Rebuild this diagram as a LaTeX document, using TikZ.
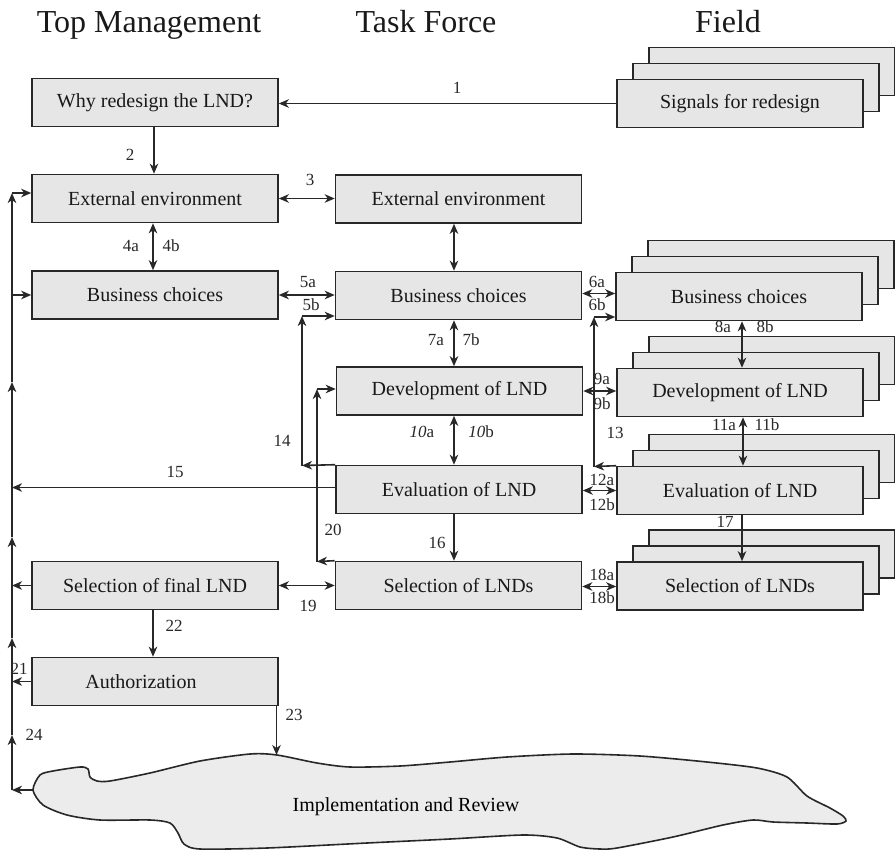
\documentclass[tikz,border=0pt]{standalone}
\usepackage{fontspec}
\setmainfont{Liberation Serif}
\usetikzlibrary{arrows.meta,shadows}
\definecolor{boxgray}{RGB}{230,230,230}
\definecolor{blobgray}{RGB}{236,236,236}
\definecolor{ink}{RGB}{40,40,40}
\begin{document}
\begin{tikzpicture}[x=1pt,y=-1pt,
  >={Stealth[length=10pt,width=8.5pt,inset=3pt]},
  font=\fontsize{20}{22}\selectfont,
  box/.style={draw=ink, line width=1.6pt, fill=boxgray, minimum width=246pt,
    minimum height=48pt, inner sep=0pt, text=black!90},
  stack/.style={box,
    copy shadow={shadow xshift=32pt, shadow yshift=32pt},
    copy shadow={shadow xshift=16pt, shadow yshift=16pt}},
  conn/.style={line width=1.6pt, draw=ink},
  lab/.style={font=\fontsize{17}{18}\selectfont, inner sep=0pt, text=ink},
  title/.style={font=\fontsize{32}{36}\selectfont, inner sep=0pt, text=black!90}]

\useasboundingbox (0,0) rectangle (895,852);
\fill[white] (0,0) rectangle (895,852);

% column headings
\node[title, anchor=base] (ttm) at (149,32) {Top Management};
\node[title, anchor=base] (ttf) at (426,32) {Task Force};
\node[title, anchor=base] (tfi) at (728,32) {Field};

% top management column
\node[box] (why)   at (155,102.5) {Why redesign the LND?};
\node[box] (tmext) at (155,198.5) {External environment};
\node[box] (tmbus) at (155,295)   {Business choices};
\node[box] (tmsel) at (155,585.5) {Selection of final LND};
\node[box] (auth)  at (155,681.5) {\hspace*{-28pt}Authorization};

% task force column
\node[box] (tfext)  at (458.5,199)   {External environment};
\node[box] (tfbus)  at (458.5,295.5) {Business choices};
\node[box] (tfdev)  at (459.5,391)   {Development of LND};
\node[box] (tfeval) at (459,489.5)   {Evaluation of LND};
\node[box] (tfsel)  at (458.5,585.5) {Selection of LNDs};

% field column (stacked copies)
\node[stack] (fsig)  at (740,103.5) {Signals for redesign};
\node[stack] (fbus)  at (739,296.5) {Business choices};
\node[stack] (fdev)  at (740,392.5) {Development of LND};
\node[stack] (feval) at (740,490.5) {Evaluation of LND};
\node[stack] (fsel)  at (740,586)   {Selection of LNDs};

% implementation blob
\draw[line width=1.6pt, draw=ink, fill=blobgray] plot[smooth cycle, tension=0.45] coordinates {
  (33,790) (40,775) (53,771) (80,767) (88,769) (90,777) (97,781) (110,781)
  (150,773) (200,761) (250,754) (277,755) (317,763) (350,767) (400,766)
  (450,762) (507,757) (573,754) (640,756) (707,762) (757,768) (787,777)
  (807,796) (830,808) (843,816) (846,821) (837,824) (807,823) (773,822)
  (753,820) (723,825) (673,837) (617,848) (600,849) (580,847) (557,838)
  (523,835) (450,839) (367,843) (267,848) (200,849) (184,844) (178,833)
  (170,823) (150,820) (100,820) (67,815) (43,805)};
\node (impl) at (406,807) {Implementation and Review};
\coordinate (blobleft) at (33,790);
\coordinate (blobtop) at (276.5,755);

% feedback bus on the left
\coordinate (bbot) at (12,790);
\coordinate (b735) at (12,735);
\coordinate (b638) at (12,638);
\coordinate (b537) at (12,537);
\coordinate (b382) at (12,382);
\coordinate (btop) at (12,193);

% corner points of the loop-back lines
\coordinate (c14b) at (302,465.5);
\coordinate (c14t) at (302,316);
\coordinate (c20b) at (317,561.5);
\coordinate (c20t) at (317,389);
\coordinate (c13b) at (594,466.5);
\coordinate (c13t) at (594,317);

% connectors
\draw[conn,->] (fsig.west) -- (fsig.west -| why.east);
\draw[conn,->] ([xshift=-1pt]why.south) -- ([xshift=-1pt]tmext.north);
\draw[conn,<->] (tmext.east) -- (tmext.east -| tfext.west);
\draw[conn,<->] ([xshift=-2pt]tmext.south) -- ([xshift=-2pt]tmbus.north);
\draw[conn,<->] ([xshift=-4.5pt]tfext.south) -- ([xshift=-4.5pt]tfbus.north);
\draw[conn,<->] (tmbus.east) -- (tmbus.east -| tfbus.west);
\draw[conn,<->] ([yshift=2pt]tfbus.east) -- ([yshift=2pt]tfbus.east -| fbus.west);
\draw[conn,<->] ([xshift=-4.5pt]tfbus.south) -- ([xshift=-4.5pt]tfbus.south |- tfdev.north);
\draw[conn,<->] ([xshift=3pt]fbus.south) -- ([xshift=3pt]fbus.south |- fdev.north);
\draw[conn,<->] (tfdev.east) -- (tfdev.east -| fdev.west);
\draw[conn,<->] ([xshift=-5.5pt]tfdev.south) -- ([xshift=-5.5pt]tfdev.south |- tfeval.north);
\draw[conn,<->] ([xshift=3pt]fdev.south) -- ([xshift=3pt]fdev.south |- feval.north);
\draw[conn,<->] ([yshift=-1pt]tfeval.east) -- ([yshift=-1pt]tfeval.east -| feval.west);
\draw[conn,->] ([xshift=2pt]feval.south) -- ([xshift=2pt]feval.south |- fsel.north);
\draw[conn,->] ([xshift=-5pt]tfeval.south) -- ([xshift=-5pt]tfeval.south |- tfsel.north);
\draw[conn,<->] ([yshift=-1pt]tfsel.east) -- ([yshift=-1pt]tfsel.east -| fsel.west);
\draw[conn,<->] (tmsel.east) -- (tmsel.east -| tfsel.west);
\draw[conn,->] ([xshift=-2pt]tmsel.south) -- ([xshift=-2pt]tmsel.south |- auth.north);

% 13, 14, 20: loops back to earlier steps
\draw[conn,->] (tfeval.north west) -- (c14b);
\draw[conn,->] (c14b) -- (c14t);
\draw[conn,->] (c14t) -- (c14t -| tfbus.west);
\draw[conn,->] (tfsel.north west) -- (c20b);
\draw[conn,->] (c20b) -- (c20t);
\draw[conn,->] (c20t) -- (c20t -| tfdev.west);
\draw[conn,->] (feval.north west) -- (c13b);
\draw[conn,->] (c13b) -- (c13t);
\draw[conn,->] (c13t) -- (c13t -| fbus.west);

% returns to top management
\draw[conn,->] ([yshift=2pt]tfeval.west) -- ([yshift=2pt]tfeval.west -| bbot);
\draw[conn,->] (tmsel.west) -- (tmsel.west -| bbot);
\draw[conn,->] (auth.west) -- (auth.west -| bbot);
\draw[conn,->] (auth.south -| blobtop) -- (blobtop);
\draw[conn,->] (blobleft) -- (bbot);
\draw[conn,->] (bbot) -- (b735);
\draw[conn,->] (b735) -- (b638);
\draw[conn,->] (b638) -- (b537);
\draw[conn,->] (b537) -- (b382);
\draw[conn,->] (b382) -- (btop);
\draw[conn,->] (btop) -- (btop -| tmext.west);
\draw[conn,->] (tmbus.west -| bbot) -- (tmbus.west);

% connector labels
\node[lab] (l1)   at (457,88)  {1};
\node[lab] (l2)   at (130,155) {2};
\node[lab] (l3)   at (310,180) {3};
\node[lab] (l4a)  at (131,246) {4a};
\node[lab] (l4b)  at (171,246) {4b};
\node[lab] (l5a)  at (308,282) {5a};
\node[lab] (l5b)  at (311,305) {5b};
\node[lab] (l6a)  at (597,282) {6a};
\node[lab] (l6b)  at (597,305) {6b};
\node[lab] (l7a)  at (436,340) {7a};
\node[lab] (l7b)  at (471,340) {7b};
\node[lab] (l8a)  at (723,327) {8a};
\node[lab] (l8b)  at (765,327) {8b};
\node[lab] (l9a)  at (602,379) {9a};
\node[lab] (l9b)  at (602,404) {9b};
\node[lab] (l10a) at (422,432) {\textit{10}a};
\node[lab] (l10b) at (481,432) {\textit{10}b};
\node[lab] (l11a) at (724,425) {11a};
\node[lab] (l11b) at (767,425) {11b};
\node[lab] (l12a) at (602,480) {12a};
\node[lab] (l12b) at (602,505) {12b};
\node[lab] (l13)  at (615,433) {13};
\node[lab] (l14)  at (282,441) {14};
\node[lab] (l15)  at (175,472) {15};
\node[lab] (l16)  at (437,543) {16};
\node[lab] (l17)  at (725,522) {17};
\node[lab] (l18a) at (602,575) {18a};
\node[lab] (l18b) at (602,598) {18b};
\node[lab] (l19)  at (308,606) {19};
\node[lab] (l20)  at (333,530) {20};
\node[lab] (l21)  at (19,669)  {21};
\node[lab] (l22)  at (174,626) {22};
\node[lab] (l23)  at (294,715) {23};
\node[lab] (l24)  at (34,735)  {24};
\end{tikzpicture}
\end{document}
